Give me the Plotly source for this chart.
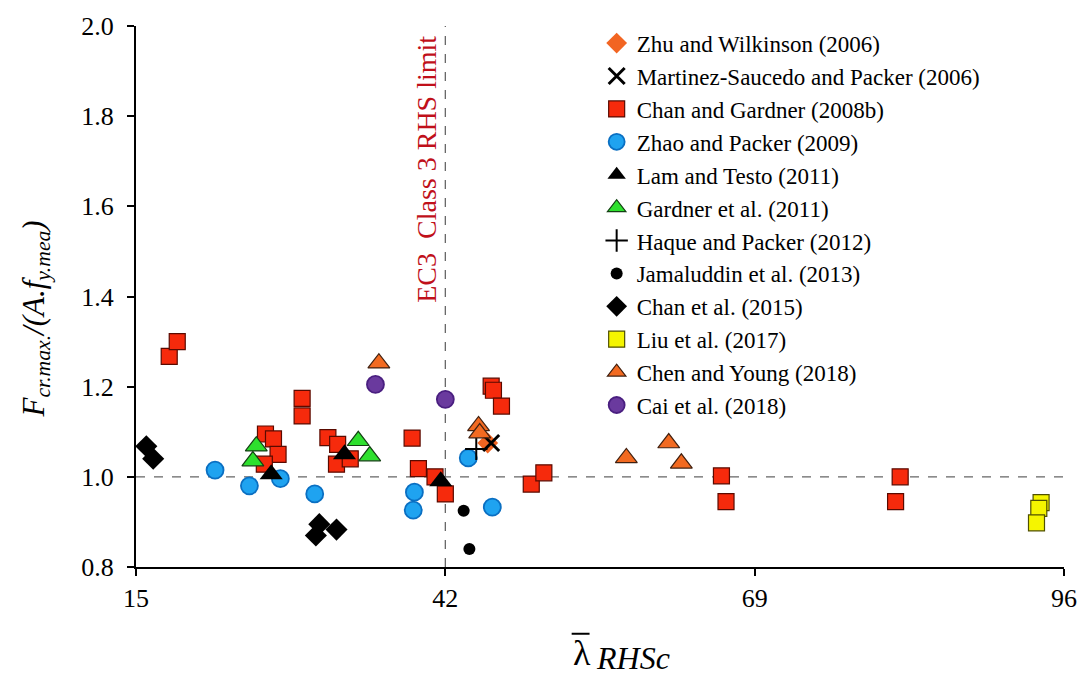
import plotly.graph_objects as go

# ---------------- data ----------------
zhu_x = [45.7]
zhu_y = [1.075]
mart_x = [46.0]
mart_y = [1.075]
chan08_x = [17.9, 18.6, 26.3, 27.0, 27.4, 26.2, 29.5, 29.5, 31.75, 32.6, 32.5, 33.7,
            39.1, 39.65, 41.1, 42.0, 46.0, 46.2, 46.9, 49.5, 50.6, 66.1, 66.5, 81.7, 81.3]
chan08_y = [1.267, 1.30, 1.095, 1.084, 1.05, 1.028, 1.174, 1.135, 1.087, 1.072, 1.028, 1.04,
            1.086, 1.018, 1.0, 0.962, 1.201, 1.192, 1.157, 0.984, 1.009, 1.002, 0.945, 1.0, 0.945]
zhao_x = [21.9, 24.9, 27.6, 30.6, 39.3, 39.2, 44.0, 46.1]
zhao_y = [1.015, 0.98, 0.996, 0.962, 0.966, 0.926, 1.042, 0.933]
lam_x = [26.8, 33.2, 41.6]
lam_y = [1.006, 1.05, 0.99]
gard_x = [25.5, 25.2, 34.4, 35.4]
gard_y = [1.068, 1.035, 1.08, 1.046]
haq_x = [44.7]
haq_y = [1.062]
jam_x = [43.6, 44.1]
jam_y = [0.925, 0.84]
chan15_x = [15.9, 16.5, 31.0, 30.7, 32.5]
chan15_y = [1.068, 1.04, 0.895, 0.87, 0.883]
liu_x = [94.0, 93.8, 93.6]
liu_y = [0.943, 0.93, 0.898]
chen_x = [36.2, 44.9, 45.0, 57.8, 61.5, 62.6]
chen_y = [1.252, 1.113, 1.097, 1.042, 1.075, 1.03]
cai_x = [35.9, 42.0]
cai_y = [1.205, 1.172]

x_ticks = [15, 42, 69, 96]
y_ticks = [0.8, 1.0, 1.2, 1.4, 1.6, 1.8, 2.0]
ec3_limit = 42
ref_ratio = 1.0

FONT = "Liberation Serif, Times New Roman, serif"

series = [
    ("Zhu and Wilkinson (2006)", zhu_x, zhu_y, dict(symbol="diamond", size=16, color="#F26522", line=dict(width=0))),
    ("Martinez-Saucedo and Packer (2006)", mart_x, mart_y, dict(symbol="x-thin", size=16, color="black", line=dict(width=3, color="black"))),
    ("Chan and Gardner (2008b)", chan08_x, chan08_y, dict(symbol="square", size=16, color="#F62A0C", line=dict(width=1.2, color="#5A0A00"))),
    ("Zhao and Packer (2009)", zhao_x, zhao_y, dict(symbol="circle", size=17, color="#1FA3F0", line=dict(width=1.8, color="#0A6FC2"))),
    ("Lam and Testo (2011)", lam_x, lam_y, dict(symbol="triangle-up", size=20, color="black", line=dict(width=0))),
    ("Gardner et al. (2011)", gard_x, gard_y, dict(symbol="triangle-up", size=19, color="#2EE02E", line=dict(width=1.2, color="#144014"))),
    ("Haque and Packer (2012)", haq_x, haq_y, dict(symbol="cross-thin", size=16, color="black", line=dict(width=2, color="black"))),
    ("Jamaluddin et al. (2013)", jam_x, jam_y, dict(symbol="circle", size=12, color="black", line=dict(width=0))),
    ("Chan et al. (2015)", chan15_x, chan15_y, dict(symbol="diamond", size=17, color="black", line=dict(width=0))),
    ("Liu et al. (2017)", liu_x, liu_y, dict(symbol="square", size=16, color="#F5F500", line=dict(width=1.2, color="#505000"))),
    ("Chen and Young (2018)", chen_x, chen_y, dict(symbol="triangle-up", size=19, color="#F26A21", line=dict(width=1.2, color="#402010"))),
    ("Cai et al. (2018)", cai_x, cai_y, dict(symbol="circle", size=17, color="#6A3A9E", line=dict(width=1.8, color="#4A1F80"))),
]

fig = go.Figure()

# reference lines (drawn from data via axes)
fig.add_trace(go.Scatter(x=[x_ticks[0], x_ticks[-1]], y=[ref_ratio, ref_ratio], mode="lines",
                         line=dict(color="#666666", width=1.3, dash="dash"), showlegend=False, hoverinfo="skip"))
fig.add_trace(go.Scatter(x=[ec3_limit, ec3_limit], y=[y_ticks[0], y_ticks[-1]], mode="lines",
                         line=dict(color="#666666", width=1.3, dash="dash"), showlegend=False, hoverinfo="skip"))

for name, xs, ys, mk in series:
    fig.add_trace(go.Scatter(x=xs, y=ys, mode="markers", name=name, marker=mk, cliponaxis=False))

fig.add_annotation(x=ec3_limit, y=1.683, xref="x", yref="y", text="EC3  Class 3 RHS limit",
                   textangle=-90, showarrow=False, xanchor="right", xshift=-1,
                   font=dict(family=FONT, size=28, color="#C0101A"))

# axis titles
fig.add_annotation(x=(35 - 136) / 933, y=(567 - 318) / 543, xref="paper", yref="paper",
                   text="<i>F<sub>cr.max.</sub>/(A.f<sub>y.mea</sub>)</i>", textangle=-90,
                   showarrow=False, xanchor="center", yanchor="middle",
                   font=dict(family=FONT, size=31, color="black"))
fig.add_annotation(x=(584 - 136) / 933, y=(567 - 653) / 543, xref="paper", yref="paper",
                   text="λ", showarrow=False, xanchor="center", yanchor="middle",
                   font=dict(family=FONT, size=36, color="black"))
fig.add_annotation(x=(596 - 136) / 933, y=(567 - 658) / 543, xref="paper", yref="paper",
                   text="<i>RHSc</i>", showarrow=False, xanchor="left", yanchor="middle",
                   font=dict(family=FONT, size=32, color="black"))
fig.add_shape(type="line", xref="paper", yref="paper",
              x0=(574 - 136) / 933, x1=(592 - 136) / 933,
              y0=(567 - 634) / 543, y1=(567 - 634) / 543,
              line=dict(color="black", width=2))

fig.update_layout(
    width=1089, height=678,
    margin=dict(l=136, r=20, t=24, b=111),
    paper_bgcolor="white", plot_bgcolor="white",
    font=dict(family=FONT, size=26, color="black"),
    showlegend=True,
    legend=dict(x=0.4964, y=1.008, xanchor="left", yanchor="top", bgcolor="rgba(0,0,0,0)",
                font=dict(family=FONT, size=23, color="black"), itemwidth=30,
                tracegroupgap=0, maxheight=600),
    xaxis=dict(range=[15, 96], tickvals=x_ticks, ticktext=[str(v) for v in x_ticks],
               showgrid=False, zeroline=False, showline=True, linecolor="black", linewidth=2,
               ticks="outside", ticklen=7, tickwidth=1.5, tickcolor="black",
               tickfont=dict(family=FONT, size=26)),
    yaxis=dict(range=[0.8, 2.0], tickvals=y_ticks, ticktext=[f"{v:.1f}" for v in y_ticks],
               showgrid=False, zeroline=False, showline=True, linecolor="black", linewidth=2,
               ticks="outside", ticklen=7, tickwidth=1.5, tickcolor="black",
               ticklabelstandoff=8,
               tickfont=dict(family=FONT, size=26)),
)

fig.write_html("out.html")
